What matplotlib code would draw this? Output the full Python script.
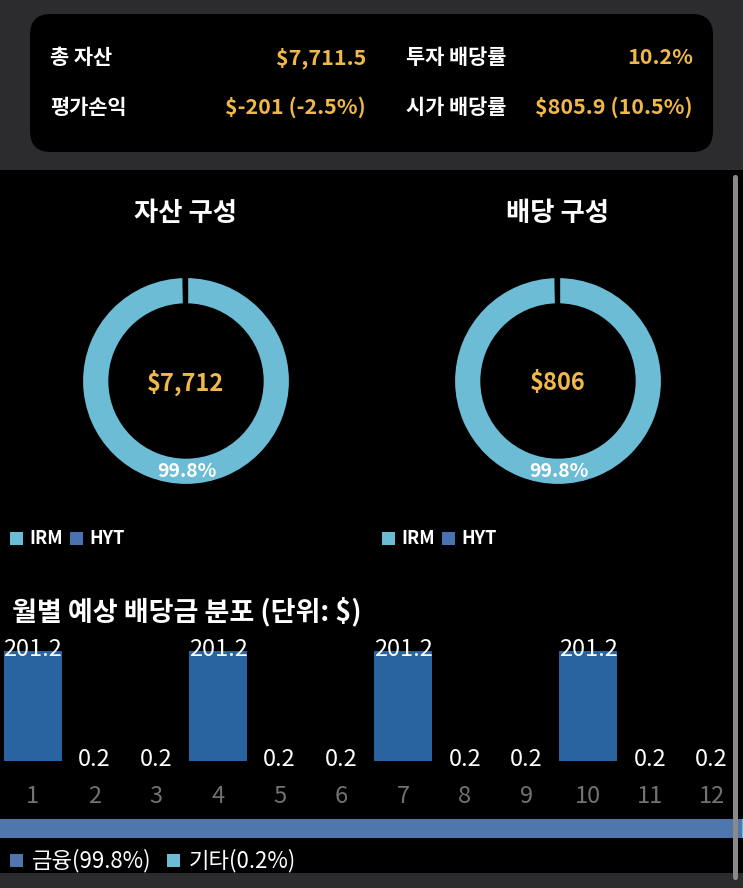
import matplotlib
matplotlib.use("Agg")
import matplotlib.pyplot as plt
from matplotlib.patches import FancyBboxPatch, Rectangle

plt.rcParams['font.family'] = ['Noto Sans CJK KR', 'DejaVu Sans']

# summary panel
summary_labels = [['총 자산', '투자 배당률'], ['평가손익', '시가 배당률']]
summary_values = [['$7,711.5', '10.2%'], ['$-201 (-2.5%)', '$805.9 (10.5%)']]

# donuts
tickers = ['IRM', 'HYT']
asset_values = [7696.1, 15.4]
dividend_values = [804.3, 1.6]
asset_center = '$7,712'
dividend_center = '$806'

# monthly dividends
months = list(range(1, 13))
monthly_div = [201.2, 0.2, 0.2, 201.2, 0.2, 0.2, 201.2, 0.2, 0.2, 201.2, 0.2, 0.2]

# sector split
sectors = ['금융', '기타']
sector_pct = [99.8, 0.2]

GOLD = '#f0b849'
LIGHT = '#6bbcd4'
DARK = '#4a72b0'
BAR = '#2a64a0'
SECTOR = ['#4f77ad', '#6bbcd4']

W, H = 743, 888
fig = plt.figure(figsize=(W / 100, H / 100), dpi=100, facecolor='#2c2c2e')


def px_axes(x0, y0, x1, y1):
    return fig.add_axes([x0 / W, 1 - y1 / H, (x1 - x0) / W, (y1 - y0) / H])


def fx(x):
    return x / W


def fy(y):
    return 1 - y / H


# backgrounds (behind the axes)
fig.patches.append(FancyBboxPatch((fx(30), fy(152)), fx(713) - fx(30), fy(14) - fy(152),
                                  boxstyle='round,pad=0,rounding_size=0.028',
                                  transform=fig.transFigure, facecolor='black',
                                  edgecolor='none', mutation_aspect=W / H, zorder=-5))
fig.patches.append(Rectangle((0, fy(873)), 1, fy(170) - fy(873), transform=fig.transFigure,
                             facecolor='black', edgecolor='none', zorder=-5))

# summary text
row_y = [58, 107]
for r in range(2):
    fig.text(fx(50), fy(row_y[r]), summary_labels[r][0], color='white', fontsize=15,
             fontweight='bold', va='center', ha='left')
    fig.text(fx(366), fy(row_y[r]), summary_values[r][0], color=GOLD, fontsize=15.5,
             fontweight='bold', va='center', ha='right')
    fig.text(fx(406), fy(row_y[r]), summary_labels[r][1], color='white', fontsize=15,
             fontweight='bold', va='center', ha='left')
    fig.text(fx(693), fy(row_y[r]), summary_values[r][1], color=GOLD, fontsize=15.5,
             fontweight='bold', va='center', ha='right')


def donut(cx, title, values, center_text):
    fig.text(fx(cx), fy(213), title, color='white', fontsize=19, fontweight='bold',
             ha='center', va='center')
    ax = px_axes(cx - 105, 276, cx + 105, 486)
    ax.pie(values, colors=[LIGHT, DARK], startangle=90, counterclock=False, radius=1,
           wedgeprops=dict(width=0.28, edgecolor='black', linewidth=3),
           autopct=lambda p: f'{p:.1f}%' if p > 1 else '', pctdistance=0.86,
           textprops=dict(color='white', fontsize=14, fontweight='bold'))
    ax.set_xlim(-1, 1)
    ax.set_ylim(-1, 1)
    ax.set_aspect('auto')
    ax.axis('off')
    ax.text(0, -0.02, center_text, color=GOLD, fontsize=17, fontweight='bold',
            ha='center', va='center')


donut(186, '자산 구성', asset_values, asset_center)
donut(558, '배당 구성', dividend_values, dividend_center)

# donut legends
for lx in [10, 382]:
    fig.patches.append(Rectangle((fx(lx), fy(545)), fx(13), fy(0) - fy(13),
                                 transform=fig.transFigure, facecolor=LIGHT))
    fig.text(fx(lx + 19), fy(538), tickers[0], color='white', fontsize=13,
             fontweight='bold', va='center')
    fig.patches.append(Rectangle((fx(lx + 60), fy(545)), fx(13), fy(0) - fy(13),
                                 transform=fig.transFigure, facecolor=DARK))
    fig.text(fx(lx + 79), fy(538), tickers[1], color='white', fontsize=13,
             fontweight='bold', va='center')

# monthly bar chart
fig.text(fx(12), fy(612), '월별 예상 배당금 분포 (단위: $)', color='white', fontsize=19.5,
         fontweight='bold', va='center', ha='left')
ax = px_axes(2, 630, 742.5, 761)
ax.set_facecolor('none')
ax.bar(months, monthly_div, width=0.94, color=BAR)
ax.set_xlim(0.5, 12.5)
ax.set_ylim(0, 240)
for m, v in zip(months, monthly_div):
    ax.annotate(f'{v}', (m, v), xytext=(0, 1), textcoords='offset points',
                ha='center', va='center', color='white', fontsize=17)
ax.set_xticks(months)
ax.set_xticklabels([str(m) for m in months], color='#727272', fontsize=17)
ax.tick_params(axis='x', length=0, pad=17.5)
ax.set_yticks([])
for s in ax.spines.values():
    s.set_visible(False)

# sector stacked bar
sax = px_axes(0, 819, 743, 838)
left = 0
for name, pct, col in zip(sectors, sector_pct, SECTOR):
    sax.barh(0, pct, left=left, height=1, color=col)
    left += pct
sax.set_xlim(0, 100)
sax.set_ylim(-0.5, 0.5)
sax.axis('off')

lx = 10
for name, pct, col in zip(sectors, sector_pct, SECTOR):
    fig.patches.append(Rectangle((fx(lx), fy(867)), fx(13), fy(0) - fy(13),
                                 transform=fig.transFigure, facecolor=col))
    fig.text(fx(lx + 22), fy(861), f'{name}({pct}%)', color='white', fontsize=16,
             va='center', ha='left')
    lx += 157

# scrollbar
fig.patches.append(FancyBboxPatch((fx(733), fy(880)), fx(5), fy(175) - fy(880),
                                  boxstyle='round,pad=0,rounding_size=0.003',
                                  transform=fig.transFigure, facecolor='#8a8a8a',
                                  edgecolor='none', zorder=5))

fig.savefig('out.png', dpi=100, facecolor=fig.get_facecolor())
